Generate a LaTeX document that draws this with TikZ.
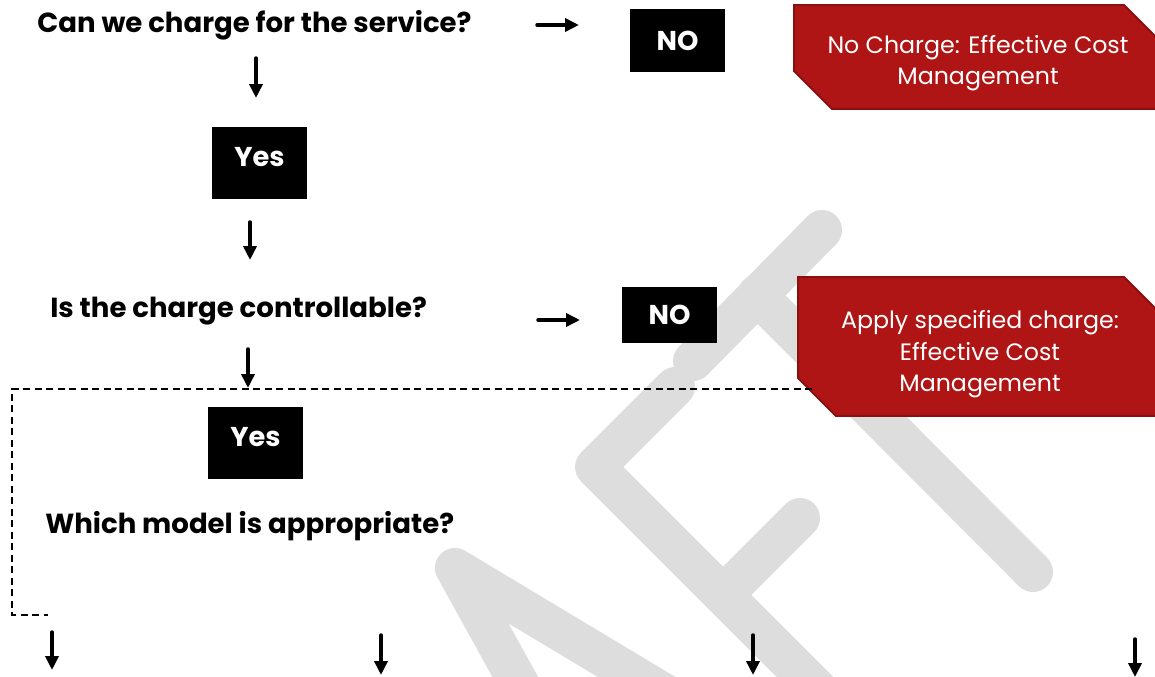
\documentclass[tikz,border=0pt]{standalone}
\usepackage{fontspec}
\setmainfont{Poppins}
\usetikzlibrary{arrows.meta, shapes.misc}
\definecolor{outfill}{HTML}{B01515}
\definecolor{outedge}{HTML}{8A0F0F}
\definecolor{wmark}{HTML}{DDDDDD}

\begin{document}
\begin{tikzpicture}[
  x=0.02cm, y=-0.02cm,
  question/.style={anchor=base west, inner sep=0pt,
                   font=\fontsize{15.7}{19}\selectfont\bfseries},
  answer/.style={fill=black, text=white, inner sep=0pt, minimum width=1.9cm,
                 font=\fontsize{15.5}{18}\selectfont\bfseries},
  yesbox/.style={answer, minimum height=1.44cm, text depth=0.24cm},
  outcome/.style={chamfered rectangle, chamfered rectangle corners={north east, south west},
                  chamfered rectangle xsep=0.38cm, chamfered rectangle ysep=0.38cm,
                  fill=outfill, draw=outedge, line width=0.04cm, text=white,
                  align=center, inner sep=0pt, text depth=0cm,
                  font=\fontsize{13.5}{18}\selectfont},
  arr/.style={line width=0.07cm, line cap=round, -{Triangle[length=0.28cm, width=0.26cm]}},
  bracketline/.style={line width=0.026cm, dash pattern=on 0.14cm off 0.09cm},
  watermark/.style={wmark, line width=0.8cm, line cap=round, line join=round},
]
\useasboundingbox (0,0) rectangle (1155,676);

% watermark
\draw[watermark] (528,700) -- (455,568) -- (675,700);
\draw[watermark] (675,387) -- (595,467) -- (840,712);
\draw[watermark] (800,518) -- (723,595);
\draw[watermark] (693,361) -- (822,230);
\draw[watermark] (757,295) -- (1033,572);

% questions
\node[question] (charge) at (37,32) {Can we charge for the service?};
\node[question] (control) at (50,317) {Is the charge controllable?};
\node[question] (model) at (45,533) {Which model is appropriate?};

% answers
\node[yesbox] (yes1) at (259.5,163) {Yes};
\node[yesbox] (yes2) at (255.5,443) {Yes};
\node[answer, minimum height=1.26cm] (no1) at (677.5,40.5) {NO};
\node[answer, minimum height=1.12cm] (no2) at (669.5,315) {NO};

% outcomes
\node[outcome, minimum width=7.36cm, minimum height=2.08cm, text height=1.12cm]
  (nocharge) at (978,57) {No Charge: Effective Cost\\Management};
\node[outcome, minimum width=7.28cm, minimum height=2.78cm, text height=1.82cm]
  (specified) at (980,346.5) {Apply specified charge:\\Effective Cost\\Management};

% arrows
\coordinate (d1a) at (256,58);   \coordinate (d1b) at (256,98);
\coordinate (d2a) at (250,222);  \coordinate (d2b) at (250,260);
\coordinate (d3a) at (248,349);  \coordinate (d3b) at (248,388);
\coordinate (r1a) at (537,25);   \coordinate (r1b) at (579,25);
\coordinate (r2a) at (538,320);  \coordinate (r2b) at (580,320);
\coordinate (m1a) at (52,632);   \coordinate (m1b) at (52,670);
\coordinate (m2a) at (381,635);  \coordinate (m2b) at (381,675);
\coordinate (m3a) at (753,635);  \coordinate (m3b) at (753,675);
\coordinate (m4a) at (1135,639); \coordinate (m4b) at (1135,677);

\draw[arr] (d1a) -- (d1b);
\draw[arr] (d2a) -- (d2b);
\draw[arr] (d3a) -- (d3b);
\draw[arr] (r1a) -- (r1b);
\draw[arr] (r2a) -- (r2b);
\draw[arr] (m1a) -- (m1b);
\draw[arr] (m2a) -- (m2b);
\draw[arr] (m3a) -- (m3b);
\draw[arr] (m4a) -- (m4b);

% dashed bracket round the model choice
\coordinate (brk1) at (812,389);
\coordinate (brk2) at (12,615);
\coordinate (brk3) at (48,615);
\draw[bracketline] (brk1) -| (brk2) -- (brk3);

\end{tikzpicture}
\end{document}
